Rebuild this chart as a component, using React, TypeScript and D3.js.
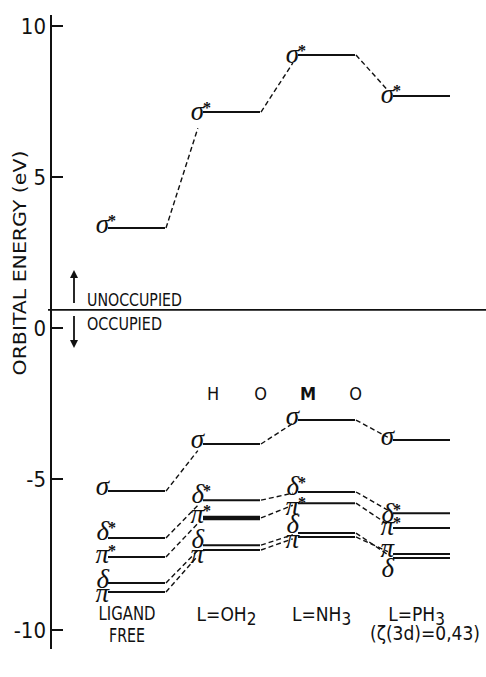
import React from "react";
import * as d3 from "d3";

// ---- data ----
const columns = ["LIGAND FREE", "L=OH2", "L=NH3", "L=PH3"];
const sigmaStar = [3.31, 7.15, 9.04, 7.68];
const sigma = [-5.4, -3.84, -3.05, -3.71];
const deltaStar = [-6.95, -5.7, -5.43, -6.13];
const piStar = [-7.58, -6.29, -5.8, -6.62];
const delta = [-8.44, -7.19, -6.79, -7.62];
const pi = [-8.74, -7.35, -6.92, -7.48];
const yTicks = [-10, -5, 0, 5, 10];
const occupiedBoundary = 0.6;
const homoLetters = ["H", "O", "M", "O"];

const orbitals = [
  { key: "sigmaStar", symbol: "σ", star: true, values: sigmaStar },
  { key: "sigma", symbol: "σ", star: false, values: sigma },
  { key: "deltaStar", symbol: "δ", star: true, values: deltaStar },
  { key: "piStar", symbol: "π", star: true, values: piStar },
  { key: "delta", symbol: "δ", star: false, values: delta },
  { key: "pi", symbol: "π", star: false, values: pi },
];

// ---- layout (label baseline offsets relative to level line) ----
const labelDy: Record<string, number[]> = {
  sigmaStar: [5, 8, 8, 7],
  sigma: [4, 4, 5, 5],
  deltaStar: [2, 3, 3, 9],
  piStar: [6, 5, 12, 7],
  delta: [5, 3, 0, 19],
  pi: [10, 13, 11, 3],
};

const W = 486;
const H = 677;
const LEVEL_LEN = 57;
const AXIS_X = 51;

const sans = "'DejaVu Sans', sans-serif";
const serif = "'Liberation Serif', 'DejaVu Serif', serif";

export default function App() {
  const y = d3.scaleLinear().domain([-10, 10]).range([630, 26]);
  const x = d3.scalePoint<string>().domain(columns).range([108, 393]);

  const dashed: JSX.Element[] = [];
  const levels: JSX.Element[] = [];
  const labels: JSX.Element[] = [];

  orbitals.forEach((o) => {
    o.values.forEach((v, i) => {
      const xs = x(columns[i])!;
      const yy = y(v);
      const thick = o.key === "piStar" && i === 1;
      levels.push(
        <line
          key={`l-${o.key}-${i}`}
          x1={xs}
          x2={xs + LEVEL_LEN}
          y1={yy}
          y2={yy}
          stroke="#111"
          strokeWidth={thick ? 4.5 : 2}
        />
      );
      const base = yy + labelDy[o.key][i];
      labels.push(
        <text
          key={`t-${o.key}-${i}`}
          x={xs + 1}
          y={base}
          textAnchor="end"
          fontFamily={serif}
          fontStyle="italic"
          fontSize={27}
          fill="#111"
        >
          {o.symbol}
        </text>
      );
      if (o.star) {
        labels.push(
          <text
            key={`s-${o.key}-${i}`}
            x={xs}
            y={base - 15 + 8}
            fontFamily={serif}
            fontWeight="bold"
            fontSize={16}
            fill="#111"
          >
            *
          </text>
        );
      }
      if (i < o.values.length - 1) {
        const x0 = xs + LEVEL_LEN + 1;
        const y0 = yy;
        const x1 = x(columns[i + 1])!;
        const y1 = y(o.values[i + 1]);
        const t = 0.86;
        dashed.push(
          <line
            key={`d-${o.key}-${i}`}
            x1={x0}
            y1={y0}
            x2={x0 + (x1 - x0) * t}
            y2={y0 + (y1 - y0) * t}
            stroke="#111"
            strokeWidth={1.4}
            strokeDasharray="5 3"
          />
        );
      }
    });
  });

  const ySep = y(occupiedBoundary);
  const cond = { fontStretch: "condensed" as const };

  return (
    <svg
      width={W}
      height={H}
      style={{ position: "absolute", left: 0, top: 0, background: "#fff" }}
    >
      <rect width={W} height={H} fill="#fff" />
      {/* axis */}
      <line x1={AXIS_X} x2={AXIS_X} y1={15} y2={649} stroke="#111" strokeWidth={2} />
      {yTicks.map((t) => (
        <g key={t}>
          <line x1={AXIS_X} x2={AXIS_X + 12} y1={y(t)} y2={y(t)} stroke="#111" strokeWidth={2} />
          <text
            x={AXIS_X - 5}
            y={y(t) + 8}
            textAnchor="end"
            fontFamily={sans}
            fontSize={22}
            style={cond}
            fill="#111"
          >
            {t < 0 ? `-${Math.abs(t)}` : t}
          </text>
        </g>
      ))}
      <text
        transform={`translate(26,263) rotate(-90)`}
        textAnchor="middle"
        fontFamily={sans}
        fontSize={17}
        style={cond}
        fill="#111"
        textLength={225}
        lengthAdjust="spacingAndGlyphs"
      >
        ORBITAL  ENERGY  (eV)
      </text>

      {/* occupied boundary */}
      <line x1={48} x2={W} y1={ySep} y2={ySep} stroke="#111" strokeWidth={1.8} />
      <line x1={74} x2={74} y1={ySep - 7} y2={ySep - 34} stroke="#111" strokeWidth={1.8} />
      <path d={`M70,${ySep - 32} L74,${ySep - 40} L78,${ySep - 32} Z`} fill="#111" />
      <line x1={74} x2={74} y1={ySep + 6} y2={ySep + 32} stroke="#111" strokeWidth={1.8} />
      <path d={`M70,${ySep + 30} L74,${ySep + 38} L78,${ySep + 30} Z`} fill="#111" />
      <text x={87} y={ySep - 4} fontFamily={sans} fontSize={18} style={cond} fill="#111" textLength={95} lengthAdjust="spacingAndGlyphs">
        UNOCCUPIED
      </text>
      <text x={87} y={ySep + 20} fontFamily={sans} fontSize={18} style={cond} fill="#111" textLength={75} lengthAdjust="spacingAndGlyphs">
        OCCUPIED
      </text>

      {/* HOMO */}
      {homoLetters.map((c, i) => (
        <text
          key={i}
          x={213 + i * 47.5}
          y={400}
          textAnchor="middle"
          fontFamily={sans}
          fontWeight={c === "M" ? "bold" : "normal"}
          fontSize={18}
          style={cond}
          fill="#111"
        >
          {c}
        </text>
      ))}

      {dashed}
      {levels}
      {labels}

      {/* column labels */}
      <text x={127} y={620} textAnchor="middle" fontFamily={sans} fontSize={19} style={cond} fill="#111" textLength={57} lengthAdjust="spacingAndGlyphs">
        LIGAND
      </text>
      <text x={127} y={642} textAnchor="middle" fontFamily={sans} fontSize={19} style={cond} fill="#111" textLength={36} lengthAdjust="spacingAndGlyphs">
        FREE
      </text>
      {columns.slice(1).map((c) => {
        const main = c.slice(0, -1);
        const sub = c.slice(-1);
        const cx = x(c)! + LEVEL_LEN / 2 - 5;
        return (
          <text key={c} x={cx} y={621} textAnchor="middle" fontFamily={sans} fontSize={19} style={cond} fill="#111">
            {main}
            <tspan fontSize={17} dy={4}>
              {sub}
            </tspan>
          </text>
        );
      })}
      <text x={425} y={640} textAnchor="middle" fontFamily={sans} fontSize={19} style={cond} fill="#111" textLength={110} lengthAdjust="spacingAndGlyphs">
        (ζ(3d)=0,43)
      </text>
    </svg>
  );
}
